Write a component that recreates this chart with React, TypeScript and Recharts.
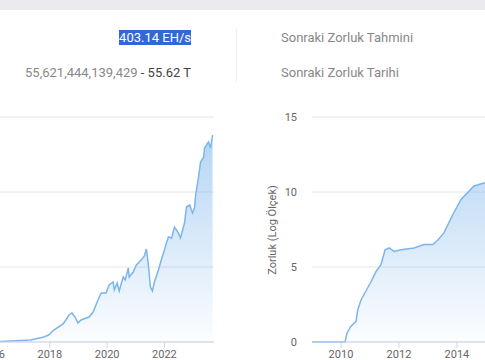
import React from "react";
import { AreaChart, Area, XAxis, YAxis, CartesianGrid } from "recharts";

// Hash rate (EH/s) — date as decimal year
const hashDates = [
  2009.0, 2011.0, 2013.0, 2014.0, 2015.0, 2016.0, 2016.28, 2017.33, 2017.79, 2017.96,
  2018.14, 2018.46, 2018.56, 2018.67, 2018.77, 2018.88, 2018.98, 2019.09, 2019.37, 2019.51,
  2019.68, 2019.79, 2019.96, 2020.07, 2020.21, 2020.25, 2020.35, 2020.42, 2020.56, 2020.63,
  2020.74, 2020.77, 2020.91, 2021.02, 2021.19, 2021.3, 2021.37, 2021.44, 2021.51, 2021.58,
  2021.65, 2021.79, 2021.89, 2022.0, 2022.07, 2022.14, 2022.25, 2022.35, 2022.49, 2022.56,
  2022.7, 2022.77, 2022.88, 2022.98, 2023.05, 2023.09, 2023.19, 2023.26, 2023.37, 2023.4,
  2023.51, 2023.54, 2023.61, 2023.68,
];
const hashValues = [
  0, 0, 0.01, 0.1, 0.35, 0.8, 1.2, 4, 10, 14,
  24, 36, 44, 54, 58, 50, 38, 44, 50, 60,
  84, 98, 98, 114, 120, 104, 118, 102, 130, 124,
  148, 130, 140, 154, 164, 172, 186, 154, 110, 102,
  120, 144, 164, 184, 198, 210, 208, 230, 218, 208,
  238, 270, 274, 258, 268, 294, 330, 360, 370, 388,
  398, 400, 388, 414,
];

// Difficulty (log10 scale)
const diffDates = [
  2009.0, 2010.14, 2010.21, 2010.34, 2010.52, 2010.58, 2010.69, 2010.86, 2011.03, 2011.21,
  2011.38, 2011.52, 2011.66, 2011.83, 2012.07, 2012.52, 2012.86, 2013.17, 2013.34, 2013.55,
  2013.86, 2014.14, 2014.59, 2014.93, 2015.5, 2016.0, 2017.0, 2018.0, 2019.0, 2020.0,
  2021.0, 2022.0, 2023.0, 2023.68,
];
const diffValues = [
  0, 0, 0.6, 1.04, 1.38, 2.15, 2.8, 3.4, 4.0, 4.7,
  5.15, 6.15, 6.27, 6.04, 6.15, 6.27, 6.5, 6.5, 6.8, 7.27,
  8.5, 9.5, 10.4, 10.6, 10.7, 11.0, 11.5, 12.3, 12.8, 13.2,
  13.3, 13.4, 13.6, 13.75,
];

const hashYearTicks = [2016, 2018, 2020, 2022];
const diffYearTicks = [2010, 2012, 2014];
const hashTicks = [0, 150, 300, 450];
const diffTicks = [0, 5, 10, 15];

const hashData = hashDates.map((d, i) => ({ t: d, v: hashValues[i] }));
const diffData = diffDates.map((d, i) => ({ t: d, v: diffValues[i] }));

const FONT = "Roboto, 'Noto Sans', sans-serif";
const tickStyle = { fill: "#666666", fontSize: 11, fontFamily: FONT };

function Grad({ id }: { id: string }) {
  return (
    <defs>
      <linearGradient id={id} x1="0" y1="0" x2="0" y2="1">
        <stop offset="0%" stopColor="#7cb5ec" stopOpacity={0.95} />
        <stop offset="100%" stopColor="#7cb5ec" stopOpacity={0.04} />
      </linearGradient>
    </defs>
  );
}

export default function App() {
  return (
    <div
      style={{
        position: "fixed",
        top: 0,
        left: 0,
        width: 485,
        height: 360,
        overflow: "hidden",
        background: "#ffffff",
        fontFamily: FONT,
      }}
    >
      <div style={{ position: "absolute", top: 0, left: 0, width: 485, height: 10, background: "#e9ebef" }} />

      <div
        style={{
          position: "absolute",
          left: 0,
          top: 29,
          width: 191,
          textAlign: "right",
          fontSize: 13,
          lineHeight: "17px",
        }}
      >
        <span style={{ background: "#3367d6", color: "#ffffff" }}>403.14 EH/s</span>
      </div>
      <div
        style={{
          position: "absolute",
          left: 0,
          top: 64,
          width: 191,
          textAlign: "right",
          fontSize: 13,
          lineHeight: "17px",
          color: "#888888",
          whiteSpace: "nowrap",
        }}
      >
        55,621,444,139,429<span style={{ color: "#444444" }}> - 55.62 T</span>
      </div>
      <div style={{ position: "absolute", left: 236, top: 28, width: 1, height: 54, background: "#eeeeee" }} />
      <div
        style={{ position: "absolute", left: 281, top: 29, fontSize: 13, lineHeight: "17px", color: "#888888", whiteSpace: "nowrap" }}
      >
        Sonraki Zorluk Tahmini
      </div>
      <div
        style={{ position: "absolute", left: 281, top: 64, fontSize: 13, lineHeight: "17px", color: "#888888", whiteSpace: "nowrap" }}
      >
        Sonraki Zorluk Tarihi
      </div>

      {/* Left chart: hash rate */}
      <div style={{ position: "absolute", left: -208, top: 107 }}>
        <AreaChart width={427} height={265} data={hashData} margin={{ top: 10, right: 5, left: 0, bottom: 0 }}>
          <Grad id="gHash" />
          <CartesianGrid vertical={false} stroke="#e6e6e6" />
          <XAxis
            dataKey="t"
            type="number"
            domain={[2009, 2023.73]}
            ticks={hashYearTicks}
            interval={0}
            allowDataOverflow
            height={30}
            stroke="#ccd6eb"
            tickSize={6}
            tickMargin={2}
            tick={tickStyle}
          />
          <YAxis hide domain={[0, 450]} ticks={hashTicks} />
          <Area
            type="linear"
            dataKey="v"
            stroke="#7cb5ec"
            strokeWidth={1.5}
            fill="url(#gHash)"
            isAnimationActive={false}
            dot={false}
            activeDot={false}
          />
        </AreaChart>
      </div>

      {/* Right chart: difficulty (log) */}
      <div
        style={{
          position: "absolute",
          left: 272,
          top: 230,
          transform: "translate(-50%, -50%) rotate(-90deg)",
          fontSize: 11,
          color: "#666666",
          whiteSpace: "nowrap",
          lineHeight: "13px",
        }}
      >
        Zorluk (Log Ölçek)
      </div>
      <div style={{ position: "absolute", left: 252, top: 107 }}>
        <AreaChart width={492} height={265} data={diffData} margin={{ top: 10, right: 5, left: 0, bottom: 0 }}>
          <Grad id="gDiff" />
          <CartesianGrid vertical={false} stroke="#e6e6e6" />
          <XAxis
            dataKey="t"
            type="number"
            domain={[2009, 2023.73]}
            ticks={diffYearTicks}
            interval={0}
            allowDataOverflow
            height={30}
            stroke="#ccd6eb"
            tickSize={6}
            tickMargin={2}
            tick={tickStyle}
          />
          <YAxis
            width={60}
            domain={[0, 15]}
            ticks={diffTicks}
            interval={0}
            axisLine={false}
            tickLine={false}
            tickSize={0}
            tickMargin={15}
            tick={tickStyle}
          />
          <Area
            type="linear"
            dataKey="v"
            stroke="#7cb5ec"
            strokeWidth={1.5}
            fill="url(#gDiff)"
            isAnimationActive={false}
            dot={false}
            activeDot={false}
          />
        </AreaChart>
      </div>
    </div>
  );
}
